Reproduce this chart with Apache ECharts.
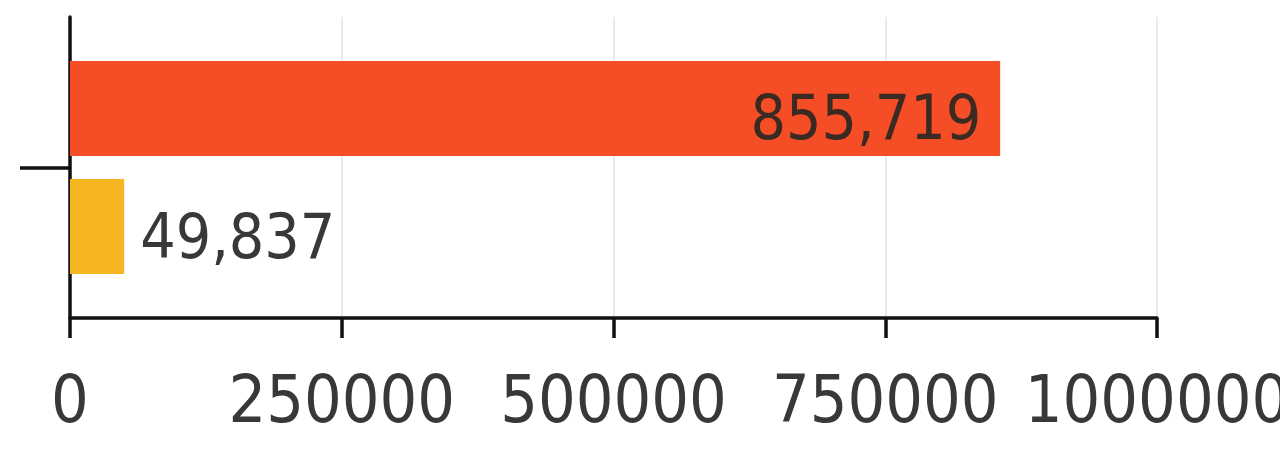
<!DOCTYPE html>
<html>
<head>
<meta charset="utf-8">
<script src="https://cdn.jsdelivr.net/npm/echarts@6/dist/echarts.min.js"></script>
<style>
  html, body { margin: 0; padding: 0; background: #ffffff; }
  #chart { width: 1280px; height: 456px; }
</style>
</head>
<body>
<div id="chart"></div>
<script>
// One category, two series
const categories = [''];
const seriesNames = ['Total', 'Subset'];
const totalValues = [855719];
const subsetValues = [49837];
const tickValues = [0, 250000, 500000, 750000, 1000000];

const FONT = '"Liberation Sans Narrow", "DejaVu Sans Condensed", Roboto, sans-serif';
const AXIS_COLOR = '#111111';
const fmt = v => v.toLocaleString('en-US');

const chart = echarts.init(document.getElementById('chart'), null, { renderer: 'canvas' });
chart.setOption({
  animation: false,
  backgroundColor: '#ffffff',
  grid: {
    left: 70, right: 123, top: 17, bottom: 138,
    containLabel: false,
    outerBoundsMode: 'none'
  },
  xAxis: {
    type: 'value',
    min: tickValues[0],
    max: tickValues[tickValues.length - 1],
    interval: tickValues[1] - tickValues[0],
    axisLine: { show: true, lineStyle: { color: AXIS_COLOR, width: 3.5 } },
    axisTick: { show: true, inside: false, length: 20, lineStyle: { color: AXIS_COLOR, width: 3.5 } },
    splitLine: { show: true, lineStyle: { color: '#ebebeb', width: 2 } },
    axisLabel: {
      color: '#383838', fontFamily: FONT, fontSize: 66, margin: 54,
      formatter: v => String(v)
    }
  },
  yAxis: {
    type: 'category',
    data: categories,
    inverse: true,
    axisLine: { show: true, lineStyle: { color: AXIS_COLOR, width: 3.5 } },
    axisTick: { show: true, length: 50, alignWithLabel: true, lineStyle: { color: AXIS_COLOR, width: 3.5 } },
    axisLabel: { show: false },
    splitLine: { show: false }
  },
  series: [
    {
      name: seriesNames[0],
      type: 'bar',
      data: totalValues,
      barWidth: 95,
      barGap: '24%',
      itemStyle: { color: '#f54e26' },
      label: {
        show: true, position: 'insideRight', distance: 19, offset: [0, 14],
        color: '#3a2a22', fontFamily: FONT, fontSize: 62,
        formatter: p => fmt(p.value)
      }
    },
    {
      name: seriesNames[1],
      type: 'bar',
      data: subsetValues,
      barWidth: 95,
      itemStyle: { color: '#f7b522' },
      label: {
        show: true, position: 'right', distance: 16, offset: [0, 15],
        color: '#383838', fontFamily: FONT, fontSize: 62,
        formatter: p => fmt(p.value)
      }
    }
  ]
});
</script>
</body>
</html>
